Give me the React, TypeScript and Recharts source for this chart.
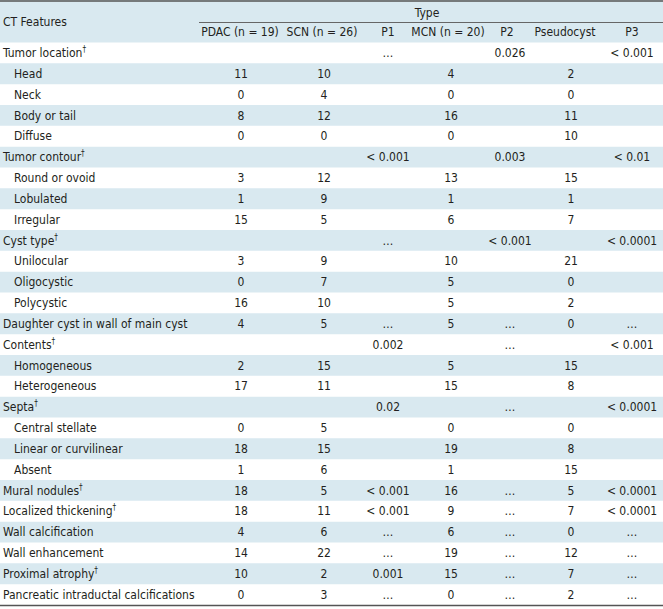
import React from 'react'
import { ScatterChart, Scatter, XAxis, YAxis, ReferenceArea, Customized } from 'recharts'

// row labels (top to bottom)
const ROW_LABELS = [
  'Tumor location', 'Head', 'Neck', 'Body or tail', 'Diffuse',
  'Tumor contour', 'Round or ovoid', 'Lobulated', 'Irregular',
  'Cyst type', 'Unilocular', 'Oligocystic', 'Polycystic',
  'Daughter cyst in wall of main cyst',
  'Contents', 'Homogeneous', 'Heterogeneous',
  'Septa', 'Central stellate', 'Linear or curvilinear', 'Absent',
  'Mural nodules', 'Localized thickening', 'Wall calcification', 'Wall enhancement',
  'Proximal atrophy', 'Pancreatic intraductal calcifications',
]
const SUB_ROWS = [
  'Head', 'Neck', 'Body or tail', 'Diffuse', 'Round or ovoid', 'Lobulated', 'Irregular',
  'Unilocular', 'Oligocystic', 'Polycystic', 'Homogeneous', 'Heterogeneous',
  'Central stellate', 'Linear or curvilinear', 'Absent',
]
const DAGGER_ROWS = [
  'Tumor location', 'Tumor contour', 'Cyst type', 'Contents', 'Septa',
  'Mural nodules', 'Localized thickening', 'Proximal atrophy',
]

const COLUMNS = ['PDAC (n = 19)', 'SCN (n = 26)', 'P1', 'MCN (n = 20)', 'P2', 'Pseudocyst', 'P3']

const PDAC = [null, 11, 0, 8, 0, null, 3, 1, 15, null, 3, 0, 16, 4, null, 2, 17, null, 0, 18, 1, 18, 18, 4, 14, 10, 0]
const SCN = [null, 10, 4, 12, 0, null, 12, 9, 5, null, 9, 7, 10, 5, null, 15, 11, null, 5, 15, 6, 5, 11, 6, 22, 2, 3]
const P1 = ['…', '', '', '', '', '< 0.001', '', '', '', '…', '', '', '', '…', '0.002', '', '', '0.02', '', '', '', '< 0.001', '< 0.001', '…', '…', '0.001', '…']
const MCN = [null, 4, 0, 16, 0, null, 13, 1, 6, null, 10, 5, 5, 5, null, 5, 15, null, 0, 19, 1, 16, 9, 6, 19, 15, 0]
const P2 = ['0.026', '', '', '', '', '0.003', '', '', '', '< 0.001', '', '', '', '…', '…', '', '', '…', '', '', '', '…', '…', '…', '…', '…', '…']
const PSEUDO = [null, 2, 0, 11, 10, null, 15, 1, 7, null, 21, 0, 2, 0, null, 15, 8, null, 0, 8, 15, 5, 7, 0, 12, 7, 2]
const P3 = ['< 0.001', '', '', '', '', '< 0.01', '', '', '', '< 0.0001', '', '', '', '…', '< 0.001', '', '', '< 0.0001', '', '', '', '< 0.0001', '< 0.0001', '…', '…', '…', '…']

const SERIES = [PDAC, SCN, P1, MCN, P2, PSEUDO, P3]

// layout: column centres in px on the x axis
const COL_X = [241, 324, 388, 451, 510, 571, 632]
const HEAD_X = [240, 322, 388, 448, 507, 565, 632]

const W = 663
const H = 609
const BLUE = '#d9e9f0'
const INK = '#231f20'
const FONT = "'DejaVu Sans Condensed', 'Liberation Sans Narrow', Roboto, sans-serif"
const FS = 12

const cells: { x: number; row: string; text: string }[] = []
ROW_LABELS.forEach((row, r) => {
  SERIES.forEach((col, c) => {
    const v = col[r]
    if (v === null || v === '') return
    cells.push({ x: COL_X[c], row, text: String(v) })
  })
})

const shadedRows = ROW_LABELS.filter((_, i) => i % 2 === 1)

const CellText = (props: any) => (
  <text x={props.cx} y={props.cy} dy="0.35em" textAnchor="middle" fontFamily={FONT} fontSize={FS} fill={INK}>
    {props.payload.text}
  </text>
)

const RowTick = (props: any) => {
  const label = props.payload.value
  const indent = SUB_ROWS.includes(label) ? 11 : 0
  return (
    <text x={3 + indent} y={props.y} dy="0.35em" textAnchor="start" fontFamily={FONT} fontSize={FS} fill={INK}>
      <tspan>{label}</tspan>
      {DAGGER_ROWS.includes(label) && <tspan fontSize={8} dy={-5}>†</tspan>}
    </text>
  )
}

const HeadTick = (props: any) => {
  const i = HEAD_X.indexOf(props.payload.value)
  return (
    <text x={props.x} y={32} dy="0.35em" textAnchor="middle" fontFamily={FONT} fontSize={FS} fill={INK}>
      {COLUMNS[i]}
    </text>
  )
}

const HeaderDecor = () => (
  <g>
    <rect x={0} y={0} width={W} height={42.5} fill={BLUE} />
    <line x1={0} x2={W} y1={1} y2={1} stroke="#555" strokeWidth={1.5} />
    <line x1={199} x2={W} y1={22.5} y2={22.5} stroke="#666" strokeWidth={1} />
    <line x1={0} x2={W} y1={605.5} y2={605.5} stroke="#555" strokeWidth={1.5} />
    <text x={3} y={22} dy="0.35em" fontFamily={FONT} fontSize={FS} fill={INK}>CT Features</text>
    <text x={427} y={13} dy="0.35em" textAnchor="middle" fontFamily={FONT} fontSize={FS} fill={INK}>Type</text>
  </g>
)

export default function App() {
  return (
    <div style={{ position: 'absolute', left: 0, top: 0, background: '#fff' }}>
      <ScatterChart width={W} height={H} margin={{ top: 0, right: 0, bottom: 4, left: 0 }}>
        <Customized component={HeaderDecor} />
        <XAxis
          xAxisId="col"
          type="number"
          dataKey="x"
          domain={[1, W]}
          allowDataOverflow
          orientation="top"
          height={42.5}
          ticks={HEAD_X}
          interval={0}
          tick={<HeadTick />}
          axisLine={false}
          tickLine={false}
        />
        <YAxis
          yAxisId="row"
          type="category"
          dataKey="row"
          allowDuplicatedCategory={false}
          reversed
          width={1}
          interval={0}
          tick={<RowTick />}
          axisLine={false}
          tickLine={false}
        />
        {shadedRows.map((r) => (
          <ReferenceArea key={r} xAxisId="col" yAxisId="row" y1={r} y2={r} x1={0} x2={W} ifOverflow="visible" fill={BLUE} fillOpacity={1} stroke="none" />
        ))}
        <Scatter xAxisId="col" yAxisId="row" data={cells} shape={<CellText />} isAnimationActive={false} />
      </ScatterChart>
    </div>
  )
}
